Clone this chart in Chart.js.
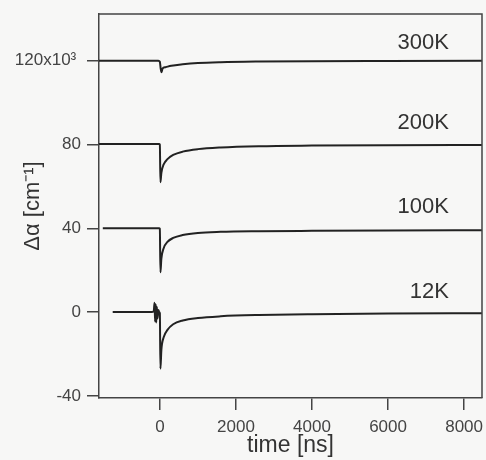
<!DOCTYPE html>
<html>
<head>
<meta charset="utf-8">
<script src="https://cdn.jsdelivr.net/npm/chart.js@4"></script>
<style>
  html, body { margin: 0; padding: 0; background: #f7f7f6; }
  #wrap { width: 486px; height: 460px; position: relative; }
</style>
</head>
<body>
<div id="wrap"><canvas id="chart"></canvas></div>
<script>
// time axis [ns] and traces (offset by temperature)
const t300 = [-1600, -40, 0, 20, 45, 70, 150, 300, 600, 1000, 1600, 2600, 4000, 6000, 8470];
const y300 = [120, 120, 119.5, 116.5, 114.5, 116.2, 116.9, 117.6, 118.3, 118.9, 119.3, 119.6, 119.8, 119.9, 120];

const t200 = [-1600, -20, 0, 15, 40, 100, 200, 350, 600, 1000, 1600, 2600, 4000, 6000, 8470];
const y200 = [80.2, 80.2, 80, 62, 66.5, 70.5, 73, 75, 76.6, 77.8, 78.6, 79.2, 79.5, 79.7, 79.8];

const t100 = [-1500, -20, 0, 15, 40, 100, 200, 350, 600, 1000, 1600, 2600, 4000, 6000, 8470];
const y100 = [40, 40, 39.8, 19, 25.5, 30.5, 33.5, 35.4, 36.8, 37.8, 38.3, 38.6, 38.8, 39, 39.1];

const t12 = [-1240, -220, -160, -140, -125, -110, -95, -80, -60, -40, -15, 0, 15, 40, 100, 200, 350, 600, 1000, 1600, 2600, 4000, 6000, 8470];
const y12 = [0, 0, 0.5, 4.5, -4.5, 3.8, -5, 2.5, -3, 1, 0, -0.5, -27, -18, -12, -8.5, -5.8, -4, -2.8, -2, -1.4, -1, -0.7, -0.5];

const xTicks = [0, 2000, 4000, 6000, 8000];
const yTicks = [-40, 0, 40, 80, 120];

// temperature labels: [text, time, value]
const tempLabels = [
    ['300K', 7600, 128.5],
    ['200K', 7600, 90.3],
    ['100K', 7600, 50.2],
    ['12K', 7600, 9.8]
];

const fontFamily = '"Liberation Sans", Arial, sans-serif';

function toPoints(ts, ys) {
    return ts.map((t, i) => ({ x: t, y: ys[i] }));
}

function traceSet(ts, ys) {
    return {
        data: toPoints(ts, ys),
        showLine: true,
        borderColor: '#222',
        borderWidth: 2,
        pointRadius: 0,
        cubicInterpolationMode: 'monotone'
    };
}

// frame on top/right plus the temperature labels
const framePlugin = {
    id: 'frame',
    afterDatasetsDraw(chart) {
        const { ctx, chartArea, scales } = chart;
        ctx.save();
        ctx.strokeStyle = '#444';
        ctx.lineWidth = 1.5;
        ctx.beginPath();
        ctx.moveTo(chartArea.left, chartArea.top);
        ctx.lineTo(chartArea.right, chartArea.top);
        ctx.lineTo(chartArea.right, chartArea.bottom);
        ctx.stroke();

        ctx.fillStyle = '#333';
        ctx.font = '22px ' + fontFamily;
        ctx.textAlign = 'right';
        ctx.textBaseline = 'middle';
        tempLabels.forEach(([txt, t, v]) => {
            ctx.fillText(txt, scales.x.getPixelForValue(t), scales.y.getPixelForValue(v));
        });
        ctx.restore();
    }
};

document.addEventListener('DOMContentLoaded', function() {
    const ctx = document.getElementById('chart');
    new Chart(ctx, {
        type: 'scatter',
        data: {
            datasets: [
                traceSet(t300, y300),
                traceSet(t200, y200),
                traceSet(t100, y100),
                traceSet(t12, y12)
            ]
        },
        options: {
            responsive: true,
            maintainAspectRatio: false,
            animation: false,
            layout: { padding: { top: 14, right: 4, left: 0, bottom: 0 } },
            plugins: {
                legend: { display: false },
                tooltip: { enabled: false }
            },
            scales: {
                x: {
                    type: 'linear',
                    min: -1600,
                    max: 8470,
                    afterBuildTicks: axis => { axis.ticks = xTicks.map(v => ({ value: v })); },
                    afterFit: axis => {
                        axis.height = 62;
                        axis.paddingLeft = 0;
                        axis.paddingRight = 0;
                    },
                    grid: {
                        drawOnChartArea: false,
                        drawTicks: true,
                        tickLength: 12,
                        color: '#444',
                        lineWidth: 1.5
                    },
                    border: { display: true, color: '#444', width: 1.5 },
                    ticks: {
                        color: '#444',
                        padding: 7,
                        maxRotation: 0,
                        font: { family: fontFamily, size: 17 },
                        callback: v => String(v)
                    },
                    title: {
                        display: true,
                        text: 'time [ns]',
                        color: '#333',
                        padding: { top: 0, bottom: 1 },
                        font: { family: fontFamily, size: 23 }
                    }
                },
                y: {
                    type: 'linear',
                    min: -41,
                    max: 142.3,
                    afterBuildTicks: axis => { axis.ticks = yTicks.map(v => ({ value: v })); },
                    afterFit: axis => {
                        axis.width = 99;
                        axis.paddingTop = 0;
                        axis.paddingBottom = 0;
                    },
                    grid: {
                        drawOnChartArea: false,
                        drawTicks: true,
                        tickLength: 12,
                        color: '#444',
                        lineWidth: 1.5
                    },
                    border: { display: true, color: '#444', width: 1.5 },
                    ticks: {
                        color: '#444',
                        padding: 6,
                        font: { family: fontFamily, size: 17 },
                        callback: v => (v === 120 ? '120x10\u00B3 ' : String(v))
                    },
                    title: {
                        display: true,
                        text: 'Δα [cm⁻¹]',
                        color: '#333',
                        padding: { top: 20, bottom: 0 },
                        font: { family: fontFamily, size: 22 }
                    }
                }
            }
        },
        plugins: [framePlugin]
    });
});
</script>
</body>
</html>
